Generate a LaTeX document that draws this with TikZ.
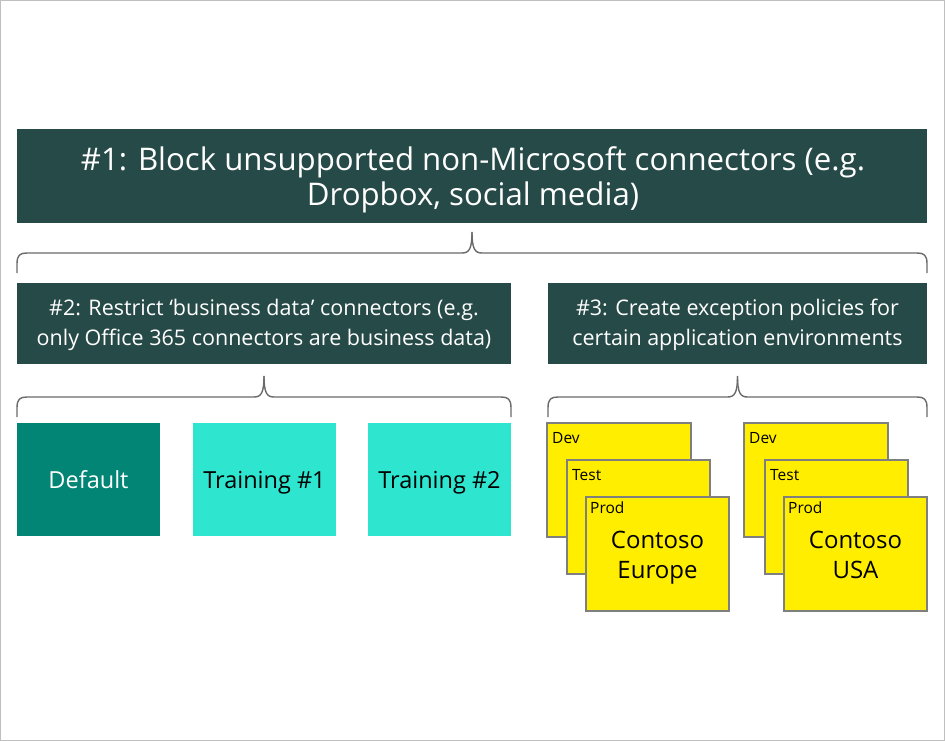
\documentclass[tikz,border=0pt]{standalone}
\usepackage{fontspec}
\setmainfont{Open Sans}
\definecolor{darkbox}{HTML}{264A47}
\definecolor{defteal}{HTML}{038575}
\definecolor{lightteal}{HTML}{2EE6D0}
\definecolor{yel}{HTML}{FFEE00}
\definecolor{ygray}{HTML}{7F7F7F}
\definecolor{brc}{HTML}{6A6A6A}
\begin{document}
\begin{tikzpicture}[x=1pt,y=-1pt,
  darkrect/.style={fill=darkbox,draw=none,text=white,align=center,inner sep=0pt},
  envbox/.style={draw=none,text=black,inner sep=0pt,anchor=base,font=\fontsize{23.5}{28}\selectfont},
  ybox/.style={fill=yel,draw=ygray,line width=2pt},
  ylab/.style={anchor=base west,inner sep=0pt,font=\fontsize{15.5}{18}\selectfont},
  bracestyle/.style={draw=brc,line width=1.4pt}]
\path[use as bounding box,draw=black!25,line width=1pt] (0.5,0.5) rectangle (944.5,740.5);
% top box
\fill[darkbox] (17,129) rectangle (927,223);
\node[darkrect,font=\fontsize{31.2}{35.5}\selectfont] (t1) at (473,180) {\#1: Block unsupported non-Microsoft connectors (e.g.\\Dropbox, social media)};
% box 2 and 3
\fill[darkbox] (17,283) rectangle (511,364);
\node[darkrect,font=\fontsize{21.5}{29.5}\selectfont] (t2) at (264,325) {\#2: Restrict ‘business data’ connectors (e.g.\\only Office 365 connectors are business data)};
\fill[darkbox] (548,283) rectangle (927,364);
\node[darkrect,font=\fontsize{21.5}{29.5}\selectfont] (t3) at (737.5,325) {\#3: Create exception policies for\\certain application environments};
% braces
\newcommand{\mybrace}[4]{% x1, x2, ytop, ybottom
  \pgfmathsetmacro{\xm}{(#1+#2)/2}
  \pgfmathsetmacro{\yh}{#4-20}
  \draw[bracestyle] (#1,#4) -- (#1,\yh+11) .. controls (#1,\yh+2) and (#1+3,\yh) .. (#1+10,\yh)
     -- (\xm-10,\yh) .. controls (\xm-3,\yh) and (\xm,\yh-4) .. (\xm,#3);
  \draw[bracestyle] (#2,#4) -- (#2,\yh+11) .. controls (#2,\yh+2) and (#2-3,\yh) .. (#2-10,\yh)
     -- (\xm+10,\yh) .. controls (\xm+3,\yh) and (\xm,\yh-4) .. (\xm,#3);
}
\mybrace{17}{927}{232}{273}
\mybrace{17}{511}{376}{417}
\mybrace{548}{927}{376}{417}
% env boxes
\fill[defteal] (17,423) rectangle (160,536);
\node[envbox,text=white] (def) at (88.5,488) {Default};
\fill[lightteal] (193,423) rectangle (336,536);
\node[envbox] (tr1) at (264.5,488) {Training \#1};
\fill[lightteal] (368,423) rectangle (511,536);
\node[envbox] (tr2) at (439.5,488) {Training \#2};
% yellow stacks
\draw[ybox] (547,423) rectangle (691,537);
\node[ylab] (dev1) at (552,443) {Dev};
\draw[ybox] (567,460) rectangle (710,574);
\node[ylab] (test1) at (572,480) {Test};
\draw[ybox] (586,497) rectangle (729,611);
\node[ylab] (prod1) at (590,513) {Prod};
\node[envbox,font=\fontsize{24}{30}\selectfont] (ce1) at (657.5,548) {Contoso};
\node[envbox,font=\fontsize{24}{30}\selectfont] (ce2) at (657.5,578) {Europe};
\draw[ybox] (744,423) rectangle (888,537);
\node[ylab] (dev2) at (749,443) {Dev};
\draw[ybox] (765,460) rectangle (908,574);
\node[ylab] (test2) at (770,480) {Test};
\draw[ybox] (784,497) rectangle (927,611);
\node[ylab] (prod2) at (788,513) {Prod};
\node[envbox,font=\fontsize{24}{30}\selectfont] (cu1) at (855.5,548) {Contoso};
\node[envbox,font=\fontsize{24}{30}\selectfont] (cu2) at (855.5,578) {USA};
\end{tikzpicture}
\end{document}
